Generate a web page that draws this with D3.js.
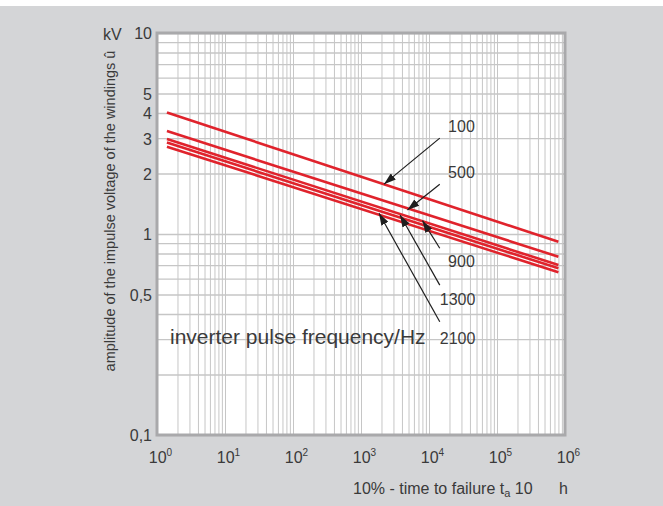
<!DOCTYPE html>
<html>
<head>
<meta charset="utf-8">
<script src="https://cdn.jsdelivr.net/npm/d3@7"></script>
<style>
body { margin: 0; background: #fff; }
text { font-family: "Liberation Sans", Arial, Helvetica, sans-serif; fill: #3a3a3a; }
</style>
</head>
<body>
<script>
var width = 663, height = 506;

// inverter pulse frequencies (Hz), one straight line each in log-log
var frequencies = ['100', '500', '900', '1300', '2100'];
var tStart = 1.4, tEnd = 8e5;               // hours
var kvStart = [4.02, 3.25, 2.97, 2.85, 2.72]; // kV at tStart
var kvEnd = [0.915, 0.771, 0.701, 0.675, 0.645]; // kV at tEnd

var yTickValues = [0.1, 0.5, 1, 2, 3, 4, 5, 10];
var xTickExps = [0, 1, 2, 3, 4, 5, 6];

// annotations: label, arrow tail and arrow tip, in (hours, kV)
var labelT = [30000, 30000, 30000, 26300, 26300];
var labelKv = [3.45, 2.04, 0.728, 0.475, 0.303];
var tailT = [14400, 14400, 14400, 14400, 14400];
var tailKv = [3.0, 1.77, 0.849, 0.557, 0.366];
var tipT = [2180, 4820, 8020, 3750, 1840];
var tipKv = [1.77, 1.316, 1.165, 1.243, 1.268];

// plot box (note: "top" is taken by window.top)
var pLeft = 157, pRight = 565, pTop = 33, pBottom = 435;

var x = d3.scaleLog().domain([1, 1e6]).range([pLeft, pRight]);
var y = d3.scaleLog().domain([0.1, 10]).range([pBottom, pTop]);

var svg = d3.select('body').append('svg')
	.attr('width', width)
	.attr('height', height);

svg.append('rect')
	.attr('x', 0).attr('y', 6)
	.attr('width', width).attr('height', height - 6)
	.attr('fill', '#d4d5d7');

svg.append('rect')
	.attr('x', pLeft).attr('y', pTop)
	.attr('width', pRight - pLeft).attr('height', pBottom - pTop)
	.attr('fill', '#fff');

// grid values 1..9 per decade
var gridX = [];
for (var k = 0; k < 6; k++) for (var m = 1; m < 10; m++) gridX.push(m * Math.pow(10, k));
gridX.push(1e6);
var gridY = [];
for (var k = -1; k < 1; k++) for (var m = 1; m < 10; m++) gridY.push(m * Math.pow(10, k));
gridY.push(10);

var gx = svg.append('g')
	.attr('transform', 'translate(0,' + pBottom + ')')
	.call(d3.axisBottom(x).tickValues(gridX).tickSize(-(pBottom - pTop)).tickFormat(''));
gx.select('.domain').remove();
gx.selectAll('line').attr('stroke', '#c6c6c6').attr('stroke-width', 1);

var gy = svg.append('g')
	.attr('transform', 'translate(' + pLeft + ',0)')
	.call(d3.axisLeft(y).tickValues(gridY).tickSize(-(pRight - pLeft)).tickFormat(''));
gy.select('.domain').remove();
gy.selectAll('line').attr('stroke', '#c6c6c6').attr('stroke-width', 1.3);

// frame
svg.append('rect')
	.attr('x', pLeft).attr('y', pTop)
	.attr('width', pRight - pLeft).attr('height', pBottom - pTop)
	.attr('fill', 'none')
	.attr('stroke', '#a9a9ab')
	.attr('stroke-width', 3);

// y tick labels
var ya = svg.append('g')
	.attr('transform', 'translate(' + (pLeft - 5) + ',0)')
	.call(d3.axisLeft(y).tickValues(yTickValues).tickSize(0).tickPadding(0)
		.tickFormat(function(d) { return String(d).replace('.', ','); }));
ya.select('.domain').remove();
ya.selectAll('text')
	.attr('font-size', 16)
	.attr('fill', '#3a3a3a')
	.attr('dy', '0.37em');

// x tick labels 10^n
var xa = svg.append('g')
	.attr('transform', 'translate(0,' + pBottom + ')')
	.call(d3.axisBottom(x).tickValues(xTickExps.map(function(e) { return Math.pow(10, e); }))
		.tickSize(0).tickPadding(0).tickFormat(''));
xa.select('.domain').remove();
xa.selectAll('.tick').each(function(d, i) {
	var t = d3.select(this).select('text')
		.attr('y', 28)
		.attr('dy', 0)
		.attr('dx', 3)
		.attr('font-size', 16)
		.attr('fill', '#3a3a3a');
	t.append('tspan').text('10');
	t.append('tspan').attr('dy', -7).attr('font-size', 10).text(xTickExps[i]);
});

// red curves
var line = d3.line()
	.x(function(d) { return x(d[0]); })
	.y(function(d) { return y(d[1]); });

svg.append('g').selectAll('path')
	.data(frequencies)
	.join('path')
	.attr('d', function(d, i) { return line([[tStart, kvStart[i]], [tEnd, kvEnd[i]]]); })
	.attr('fill', 'none')
	.attr('stroke', '#e0232c')
	.attr('stroke-width', 2.6);

// arrows
svg.append('defs').append('marker')
	.attr('id', 'head')
	.attr('viewBox', '0 0 12 8')
	.attr('refX', 12).attr('refY', 4)
	.attr('markerWidth', 12).attr('markerHeight', 8)
	.attr('markerUnits', 'userSpaceOnUse')
	.attr('orient', 'auto')
	.append('path')
	.attr('d', 'M0,0L12,4L0,8Z')
	.attr('fill', '#1e1e1e');

svg.append('g').selectAll('line')
	.data(frequencies)
	.join('line')
	.attr('x1', function(d, i) { return x(tailT[i]); })
	.attr('y1', function(d, i) { return y(tailKv[i]); })
	.attr('x2', function(d, i) { return x(tipT[i]); })
	.attr('y2', function(d, i) { return y(tipKv[i]); })
	.attr('stroke', '#1e1e1e')
	.attr('stroke-width', 1.2)
	.attr('marker-end', 'url(#head)');

svg.append('g').selectAll('text')
	.data(frequencies)
	.join('text')
	.attr('x', function(d, i) { return x(labelT[i]); })
	.attr('y', function(d, i) { return y(labelKv[i]); })
	.attr('dy', '0.36em')
	.attr('text-anchor', 'middle')
	.attr('font-size', 16)
	.text(function(d) { return d; });

svg.append('text')
	.attr('x', 170).attr('y', 344)
	.attr('font-size', 21)
	.text('inverter pulse frequency/Hz');

// axis titles
svg.append('text')
	.attr('x', 103).attr('y', 40)
	.attr('font-size', 16)
	.text('kV');

svg.append('text')
	.attr('transform', 'translate(115,211) rotate(-90)')
	.attr('text-anchor', 'middle')
	.attr('font-size', 14.5)
	.text('amplitude of the impulse voltage of the windings û');

var xt = svg.append('text')
	.attr('x', 353).attr('y', 494)
	.attr('font-size', 16);
xt.append('tspan').text('10% - time to failure t');
xt.append('tspan').attr('dy', 3).attr('font-size', 11).text('a');
xt.append('tspan').attr('dy', -3).text(' 10');

svg.append('text')
	.attr('x', 559).attr('y', 494)
	.attr('font-size', 16)
	.text('h');
</script>
</body>
</html>
